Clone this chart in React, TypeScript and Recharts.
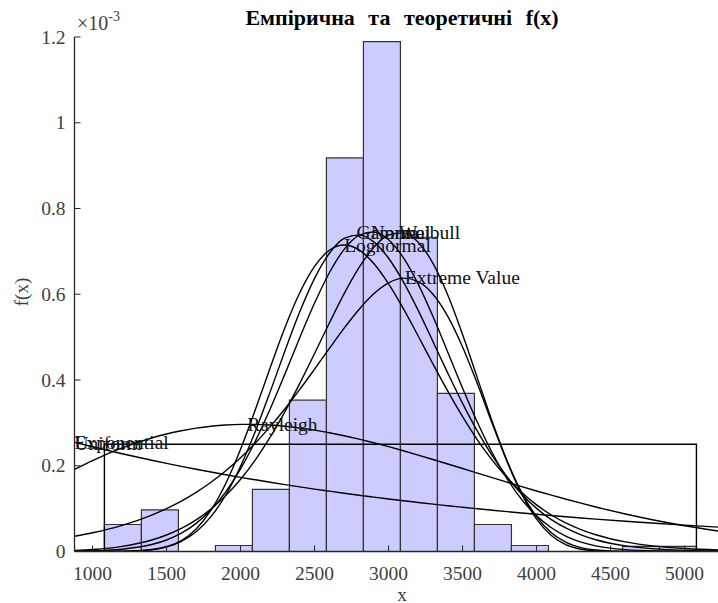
import React from 'react';
import { ComposedChart, Line, XAxis, YAxis, ReferenceArea, ReferenceDot } from 'recharts';

const FONT = '"Liberation Serif", "Times New Roman", serif';
const AXIS = '#262626';

// x grid for theoretical curves
const xGrid = [878, 1000, 1200, 1400, 1500, 1600, 1700, 1800, 1900, 2000, 2100, 2200, 2300, 2400, 2500, 2600, 2700, 2800, 2900, 3000, 3100, 3200, 3300, 3400, 3500, 3600, 3700, 3800, 3900, 4000, 4100, 4200, 4300, 4400, 4600, 4800, 5000, 5300];

// density values (x 1e-3)
const normalPdf = [0.0007, 0.0016, 0.0054, 0.0163, 0.0268, 0.0427, 0.0655, 0.0972, 0.1392, 0.1928, 0.2577, 0.3324, 0.4143, 0.4987, 0.5794, 0.6502, 0.7047, 0.7374, 0.7452, 0.7272, 0.6852, 0.6235, 0.5479, 0.4649, 0.3811, 0.3015, 0.2304, 0.17, 0.1211, 0.0834, 0.0554, 0.0355, 0.022, 0.0132, 0.0043, 0.0012, 0.0003, 0];
const gammaPdf = [0, 0, 0.0005, 0.0046, 0.0111, 0.0238, 0.046, 0.0813, 0.1318, 0.1989, 0.2807, 0.3723, 0.4682, 0.559, 0.637, 0.6956, 0.7302, 0.7386, 0.7222, 0.684, 0.6288, 0.5624, 0.4896, 0.4161, 0.3454, 0.2807, 0.2235, 0.1744, 0.1336, 0.1006, 0.0744, 0.0543, 0.0389, 0.0275, 0.0132, 0.006, 0.0026, 0.0007];
const lognormalPdf = [0, 0, 0.0002, 0.0037, 0.0106, 0.0254, 0.0526, 0.0963, 0.1586, 0.2384, 0.331, 0.4287, 0.5226, 0.6036, 0.6649, 0.7026, 0.7148, 0.7034, 0.6717, 0.6243, 0.5664, 0.5027, 0.4374, 0.374, 0.3145, 0.2605, 0.213, 0.172, 0.1375, 0.1087, 0.0851, 0.0661, 0.051, 0.039, 0.0224, 0.0126, 0.007, 0.0028];
const weibullPdf = [0.0023, 0.0045, 0.0119, 0.0268, 0.0385, 0.0539, 0.0738, 0.0991, 0.1304, 0.1685, 0.2139, 0.2665, 0.3262, 0.392, 0.4618, 0.5328, 0.6013, 0.6619, 0.7095, 0.7382, 0.7432, 0.7213, 0.672, 0.5982, 0.506, 0.4044, 0.3034, 0.2121, 0.1371, 0.0812, 0.0437, 0.0211, 0.0091, 0.0034, 0.0003, 0, 0, 0];
const extremePdf = [0.0355, 0.0436, 0.061, 0.085, 0.1001, 0.1176, 0.138, 0.1614, 0.1883, 0.2187, 0.253, 0.2912, 0.333, 0.378, 0.4254, 0.4737, 0.521, 0.5646, 0.6012, 0.6268, 0.6375, 0.6294, 0.6001, 0.5485, 0.4771, 0.3912, 0.2988, 0.21, 0.1336, 0.0755, 0.0371, 0.0154, 0.0052, 0.0014, 0, 0, 0, 0];
const rayleighPdf = [0.1915, 0.2122, 0.2416, 0.2648, 0.2741, 0.2817, 0.2878, 0.2922, 0.2951, 0.2965, 0.2964, 0.2949, 0.2922, 0.2882, 0.2832, 0.2771, 0.2701, 0.2622, 0.2537, 0.2446, 0.235, 0.2249, 0.2146, 0.2041, 0.1935, 0.1828, 0.1722, 0.1617, 0.1513, 0.1412, 0.1314, 0.1219, 0.1127, 0.1039, 0.0876, 0.073, 0.0602, 0.0441];
const exponentialPdf = [0.2548, 0.2443, 0.228, 0.2128, 0.2056, 0.1986, 0.1919, 0.1854, 0.1791, 0.173, 0.1672, 0.1615, 0.156, 0.1507, 0.1456, 0.1407, 0.1359, 0.1313, 0.1269, 0.1226, 0.1184, 0.1144, 0.1105, 0.1068, 0.1032, 0.0997, 0.0963, 0.093, 0.0899, 0.0868, 0.0839, 0.081, 0.0783, 0.0756, 0.0706, 0.0659, 0.0615, 0.0554];

// uniform pdf outline
const uniformX = [878, 1080, 1080, 5080, 5080, 5300];
const uniformY = [0, 0, 0.25, 0.25, 0, 0];

// empirical histogram
const binEdges = [1080, 1330, 1580, 1830, 2080, 2330, 2580, 2830, 3080, 3330, 3580, 3830, 4080, 4330, 4580, 4830, 5080];
const binHeights = [0.063, 0.097, 0, 0.014, 0.145, 0.353, 0.918, 1.189, 0.733, 0.369, 0.063, 0.014, 0, 0, 0.012, 0.012];

// axes
const xTicks = [1000, 1500, 2000, 2500, 3000, 3500, 4000, 4500, 5000];
const yTicks = [0, 0.2, 0.4, 0.6, 0.8, 1, 1.2];
const xDomain = [878, 5300];
const yDomain = [0, 1.2];

// curve labels (placed at the curve maxima)
const labelNames = ['Gamma', 'Normal', 'Weibull', 'Lognormal', 'Extreme Value', 'Rayleigh', 'Exponential', 'Uniform'];
const labelX = [2784, 2880, 3070, 2700, 3110, 2045, 878, 878];
const labelY = [0.745, 0.745, 0.743, 0.713, 0.638, 0.297, 0.254, 0.252];

const seriesKeys = ['exponential', 'rayleigh', 'normal', 'lognormal', 'gamma', 'weibull', 'extreme'];

const table = xGrid.map((x, i) => ({
  x,
  normal: normalPdf[i],
  gamma: gammaPdf[i],
  lognormal: lognormalPdf[i],
  weibull: weibullPdf[i],
  extreme: extremePdf[i],
  rayleigh: rayleighPdf[i],
  exponential: exponentialPdf[i],
}));
const uniformData = uniformX.map((x, i) => ({ x, uniform: uniformY[i] }));

const TICK_FS = 19.5;

const BottomTick = (props: any) => {
  const { x, y, payload } = props;
  return (
    <g>
      <line x1={x} x2={x} y1={y} y2={y - 6} stroke={AXIS} strokeWidth={1} />
      <text x={x} y={y + 28.5} textAnchor="middle" fontSize={TICK_FS} fontFamily={FONT} fill="#404040">
        {payload.value}
      </text>
    </g>
  );
};

const TopTick = (props: any) => {
  const { x, y } = props;
  return <line x1={x} x2={x} y1={y} y2={y + 6} stroke={AXIS} strokeWidth={1} />;
};

const LeftTick = (props: any) => {
  const { x, y, payload } = props;
  return (
    <g>
      <line x1={x} x2={x + 6} y1={y} y2={y} stroke={AXIS} strokeWidth={1} />
      <text x={x - 9} y={y + 6.5} textAnchor="end" fontSize={TICK_FS} fontFamily={FONT} fill="#404040">
        {String(payload.value)}
      </text>
    </g>
  );
};

const PlotLabel = (props: any) => {
  const { viewBox, text } = props;
  if (!viewBox) return null;
  return (
    <text x={viewBox.x} y={viewBox.y + 6.5} fontSize={19.5} fontFamily={FONT} fill="#111">
      {text}
    </text>
  );
};

export default function App() {
  return (
    <div style={{ position: 'absolute', left: 0, top: 0, width: 718, height: 603, overflow: 'hidden', background: '#fff' }}>
      <ComposedChart
        width={745}
        height={603}
        data={table}
        margin={{ top: 37, right: 16, bottom: 11.5, left: 0 }}
      >
        <XAxis
          dataKey="x"
          type="number"
          domain={xDomain}
          ticks={xTicks}
          interval={0}
          allowDataOverflow
          height={40}
          tickSize={0}
          tickMargin={0}
          tickLine={false}
          axisLine={{ stroke: AXIS, strokeWidth: 1.3 }}
          tick={<BottomTick />}
        />
        <XAxis
          xAxisId="top"
          orientation="top"
          type="number"
          domain={xDomain}
          ticks={xTicks}
          interval={0}
          allowDataOverflow
          height={0}
          tickSize={0}
          tickMargin={0}
          tickLine={false}
          axisLine={{ stroke: AXIS, strokeWidth: 1.3 }}
          tick={<TopTick />}
        />
        <YAxis
          type="number"
          domain={yDomain}
          ticks={yTicks}
          interval={0}
          allowDataOverflow
          width={74.5}
          tickSize={0}
          tickMargin={0}
          tickLine={false}
          axisLine={{ stroke: AXIS, strokeWidth: 1.3 }}
          tick={<LeftTick />}
        />
        {binHeights.map((h, i) =>
          h > 0 ? (
            <ReferenceArea
              key={'bin' + i}
              x1={binEdges[i]}
              x2={binEdges[i + 1]}
              y1={0}
              y2={h}
              fill="#ccccff"
              fillOpacity={1}
              stroke="#333333"
              strokeWidth={1.2}
            />
          ) : null
        )}
        <Line
          data={uniformData}
          dataKey="uniform"
          type="linear"
          stroke="#000"
          strokeWidth={1.4}
          dot={false}
          activeDot={false}
          isAnimationActive={false}
        />
        {seriesKeys.map((k) => (
          <Line
            key={k}
            dataKey={k}
            type="monotone"
            stroke="#000"
            strokeWidth={1.4}
            dot={false}
            activeDot={false}
            isAnimationActive={false}
          />
        ))}
        {labelNames.map((name, i) => (
          <ReferenceDot
            key={'lbl' + i}
            x={labelX[i]}
            y={labelY[i]}
            r={0}
            fill="none"
            stroke="none"
            label={<PlotLabel text={name} />}
          />
        ))}
      </ComposedChart>
      <svg
        width={718}
        height={603}
        style={{ position: 'absolute', left: 0, top: 0, pointerEvents: 'none' }}
      >
        <text x={402} y={25} textAnchor="middle" fontSize={22} fontWeight="bold" fontFamily={FONT} fill="#000" wordSpacing={8}>
          Емпірична та теоретичні f(x)
        </text>
        <text x={77} y={30} fontSize={20} fontFamily={FONT} fill="#404040">
          ×10<tspan dy={-9} fontSize={14}>-3</tspan>
        </text>
        <text transform="translate(28,292) rotate(-90)" textAnchor="middle" fontSize={19} fontFamily={FONT} fill="#404040">
          f(x)
        </text>
        <text x={402} y={601} textAnchor="middle" fontSize={19.5} fontFamily={FONT} fill="#404040">
          x
        </text>
      </svg>
    </div>
  );
}
